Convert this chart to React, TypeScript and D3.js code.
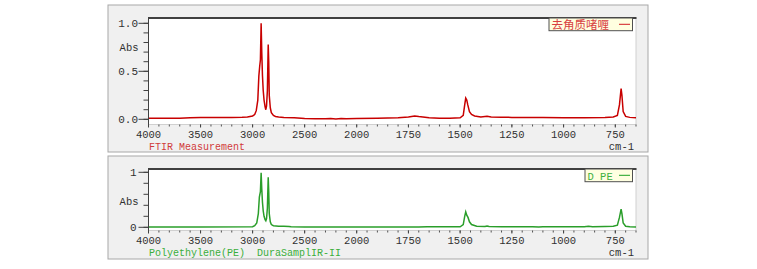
import React from "react";
import * as d3 from "d3";

// ---- data ----
const xTicks = [4000, 3500, 3000, 2500, 2000, 1750, 1500, 1250, 1000, 750];
const topYTicks = [0, 0.5, 1.0];
const topYLabels = ["0.0", "0.5", "1.0"];
const botYTicks = [0, 1];
const botYLabels = ["0", "1"];

const topSeries: [number, number][] = [
  [4000, 0.01], [3900, 0.01], [3800, 0.012], [3750, 0.01], [3700, 0.012], [3600, 0.015],
  [3500, 0.02], [3400, 0.02], [3300, 0.02], [3200, 0.02], [3100, 0.022], [3050, 0.025],
  [3000, 0.035], [2980, 0.05], [2965, 0.09], [2950, 0.2], [2940, 0.45], [2932, 0.55],
  [2925, 0.62], [2918, 1.0], [2912, 0.7], [2905, 0.45], [2898, 0.3], [2890, 0.2],
  [2880, 0.13], [2873, 0.1], [2866, 0.14], [2858, 0.3], [2850, 0.78], [2845, 0.6],
  [2840, 0.25], [2830, 0.12], [2820, 0.07], [2800, 0.04], [2780, 0.03], [2750, 0.025],
  [2700, 0.02], [2600, 0.015], [2500, 0.008], [2400, 0.005], [2300, 0.005], [2250, 0.008],
  [2200, 0.003], [2150, 0.008], [2100, 0.005], [2000, 0.008], [1900, 0.01], [1800, 0.015],
  [1750, 0.025], [1720, 0.035], [1700, 0.028], [1650, 0.015], [1600, 0.01], [1550, 0.01],
  [1500, 0.015], [1485, 0.04], [1478, 0.15], [1473, 0.22], [1468, 0.2], [1463, 0.15],
  [1455, 0.08], [1445, 0.05], [1430, 0.035], [1400, 0.025], [1370, 0.032], [1350, 0.025],
  [1300, 0.022], [1250, 0.02], [1200, 0.02], [1100, 0.018], [1000, 0.015], [900, 0.015],
  [800, 0.02], [760, 0.025], [740, 0.04], [730, 0.15], [722, 0.32], [718, 0.25],
  [712, 0.08], [700, 0.03], [680, 0.02], [650, 0.015],
];

const bottomSeries: [number, number][] = [
  [4000, 0.005], [3500, 0.006], [3000, 0.01], [2980, 0.03], [2960, 0.08], [2945, 0.25],
  [2935, 0.55], [2925, 0.65], [2918, 0.99], [2912, 0.7], [2905, 0.45], [2898, 0.3],
  [2890, 0.2], [2880, 0.14], [2873, 0.12], [2866, 0.16], [2858, 0.35], [2850, 0.91],
  [2845, 0.65], [2840, 0.25], [2830, 0.1], [2820, 0.05], [2800, 0.03], [2750, 0.02],
  [2700, 0.018], [2650, 0.015], [2630, 0.01], [2500, 0.005], [2000, 0.005], [1700, 0.005],
  [1660, 0.012], [1640, 0.008], [1500, 0.01], [1485, 0.05], [1478, 0.2], [1473, 0.28],
  [1468, 0.22], [1462, 0.18], [1455, 0.1], [1445, 0.05], [1420, 0.02], [1380, 0.015],
  [1370, 0.025], [1360, 0.015], [1300, 0.01], [1250, 0.01], [1150, 0.01], [1120, 0.005],
  [1100, 0.01], [1050, 0.01], [900, 0.01], [880, 0.02], [860, 0.01], [800, 0.015],
  [760, 0.02], [740, 0.04], [730, 0.18], [722, 0.33], [718, 0.25], [712, 0.08],
  [700, 0.02], [680, 0.01], [650, 0.005],
];

const MONO = "'Liberation Mono', 'DejaVu Sans Mono', monospace";
const CJK = "'Noto Sans CJK SC', sans-serif";

const x = d3.scaleLinear().domain([4000, 2000, 650]).range([148.5, 356.7, 636]);
const minorX = [
  ...d3.range(4000, 2000, -100),
  ...d3.range(2000, 649, -50),
];

interface PanelProps {
  frameY: number;
  frameH: number;
  plotTop: number;
  plotBottom: number;
  y: d3.ScaleLinear<number, number>;
  yTicks: number[];
  yLabels: string[];
  yMinorStep: number;
  absY: number;
  labelEnd: number;
  tickLabelY: number;
  footerY: number;
  footer: string;
  footerColor: string;
  lineColor: string;
  legendColor: string;
  data: [number, number][];
  legendText: string;
  legendFont: string;
  legendX: number;
  legendH: number;
  legendSize: number;
  id: string;
}

function Panel(p: PanelProps) {
  const left = 148.5;
  const right = 636;
  const line = d3
    .line<[number, number]>()
    .x((d) => x(d[0]))
    .y((d) => p.y(d[1]));
  const minorY = d3.range(0, 1.0001, p.yMinorStep);
  return (
    <g>
      <rect x={108} y={p.frameY} width={540} height={p.frameH} fill="#f0f0f0" stroke="#a8a8a8" strokeWidth={1} />
      <rect x={left} y={p.plotTop} width={right - left} height={p.plotBottom - p.plotTop} fill="#ffffff" stroke="#d0d0d0" strokeWidth={1} />
      <clipPath id={p.id}>
        <rect x={left} y={p.plotTop} width={right - left} height={p.plotBottom - p.plotTop} />
      </clipPath>
      <path d={line(p.data) || ""} fill="none" stroke={p.lineColor} strokeWidth={1.5} clipPath={`url(#${p.id})`} />
      <line x1={left - 0.5} x2={right + 0.5} y1={p.plotTop} y2={p.plotTop} stroke="#404040" strokeWidth={2} />
      <line x1={left} x2={left} y1={p.plotTop} y2={p.plotBottom + 2} stroke="#404040" strokeWidth={1} />
      {minorY.map((v) => (
        <line key={"my" + v} x1={left - 5} x2={left} y1={p.y(v)} y2={p.y(v)} stroke="#404040" strokeWidth={1} />
      ))}
      {p.yTicks.map((v, i) => (
        <g key={"y" + v}>
          <line x1={left - 10} x2={left} y1={p.y(v)} y2={p.y(v)} stroke="#404040" strokeWidth={1} />
          <text x={p.labelEnd} y={p.y(v)} dy="0.35em" textAnchor="end" fontFamily={MONO} fontSize={11} fill="#303030">
            {p.yLabels[i]}
          </text>
        </g>
      ))}
      <text x={138.5} y={p.absY} dy="0.35em" textAnchor="end" fontFamily={MONO} fontSize={10.5} fill="#303030">
        Abs
      </text>
      {minorX.map((v) => (
        <line key={"mx" + v} x1={x(v)} x2={x(v)} y1={p.plotBottom} y2={p.plotBottom + 2} stroke="#505050" strokeWidth={1} />
      ))}
      {xTicks.map((v) => (
        <g key={"x" + v}>
          <line x1={x(v)} x2={x(v)} y1={p.plotBottom} y2={p.plotBottom + 3} stroke="#404040" strokeWidth={1} />
          <text x={x(v)} y={p.tickLabelY} dy="0.35em" textAnchor="middle" fontFamily={MONO} fontSize={10.5} fill="#303030">
            {v}
          </text>
        </g>
      ))}
      <text x={149} y={p.footerY} dy="0.35em" fontFamily={MONO} fontSize={10} fill={p.footerColor} style={{ whiteSpace: "pre" }}>
        {p.footer}
      </text>
      <text x={634} y={p.footerY} dy="0.35em" textAnchor="end" fontFamily={MONO} fontSize={10.5} fill="#303030">
        cm-1
      </text>
      <rect x={p.legendX} y={p.plotTop} width={632.5 - p.legendX} height={p.legendH} fill="#ffffe0" stroke="#505050" strokeWidth={1} />
      <text x={p.legendX + 2.5} y={p.plotTop + p.legendH / 2 + 0.5} dy="0.35em" fontFamily={p.legendFont} fontSize={p.legendSize} fill={p.legendColor}>
        {p.legendText}
      </text>
      <line x1={619} x2={630} y1={p.plotTop + p.legendH / 2} y2={p.plotTop + p.legendH / 2} stroke={p.legendColor} strokeWidth={1.2} />
    </g>
  );
}

export default function App() {
  const yTop = d3.scaleLinear().domain([0, 1]).range([119.3, 23.3]);
  const yBot = d3.scaleLinear().domain([0, 1]).range([227.3, 172.3]);
  return (
    <svg width={757} height={269} style={{ position: "absolute", left: 0, top: 0, background: "#ffffff" }}>
      <Panel
        id="clipTop"
        frameY={5}
        frameH={147}
        plotTop={18}
        plotBottom={124.5}
        y={yTop}
        yTicks={topYTicks}
        yLabels={topYLabels}
        yMinorStep={0.1}
        absY={47.7}
        labelEnd={138}
        tickLabelY={134.5}
        footerY={146}
        footer="FTIR Measurement"
        footerColor="#d03a3a"
        lineColor="#c80000"
        legendColor="#d84040"
        data={topSeries}
        legendText="去角质啫喱"
        legendFont={CJK}
        legendX={549}
        legendH={12.7}
        legendSize={11.5}
      />
      <Panel
        id="clipBot"
        frameY={156}
        frameH={103}
        plotTop={169}
        plotBottom={230.5}
        y={yBot}
        yTicks={botYTicks}
        yLabels={botYLabels}
        yMinorStep={0.2}
        absY={201}
        labelEnd={136.5}
        tickLabelY={240.7}
        footerY={252.3}
        footer="Polyethylene(PE)  DuraSamplIR-II"
        footerColor="#3aae3a"
        lineColor="#2a9e2a"
        legendColor="#40b040"
        data={bottomSeries}
        legendText="D PE"
        legendFont={MONO}
        legendSize={10.5}
        legendX={585}
        legendH={12.7}
      />
    </svg>
  );
}
